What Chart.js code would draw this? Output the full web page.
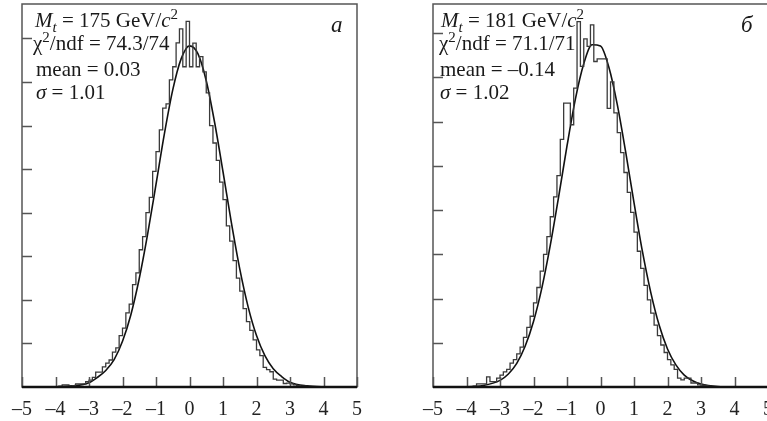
<!DOCTYPE html>
<html>
<head>
<meta charset="utf-8">
<script src="https://cdn.jsdelivr.net/npm/chart.js@4.4.1/dist/chart.umd.min.js"></script>
<style>
    body { margin: 0; background: #fff; width: 767px; height: 421px; overflow: hidden; position: relative; }
    canvas { position: absolute; top: 0; }
    #chartA { left: 0; }
    #chartB { left: 411px; }
    .note { position: absolute; font: 21px "Liberation Serif", serif; line-height: 21px; color: #1a1a1a; white-space: nowrap; }
    .note i { font-style: italic; }
    .sub { position: relative; font-size: 15px; top: 5px; line-height: 0; }
    .sup { position: relative; font-size: 15px; top: -8px; line-height: 0; }
    .tag { position: absolute; font: italic 23px "Liberation Serif", serif; line-height: 23px; color: #1a1a1a; }
</style>
</head>
<body>
<canvas id="chartA" width="380" height="421"></canvas>
<canvas id="chartB" width="380" height="421"></canvas>

<div class="note" style="left:35px;top:10px"><i>M</i><span class="sub"><i>t</i></span> = 175 GeV/<i>c</i><span class="sup">2</span></div>
<div class="note" style="left:33px;top:33px">χ<span class="sup">2</span>/ndf = 74.3/74</div>
<div class="note" style="left:36px;top:59px">mean = 0.03</div>
<div class="note" style="left:36px;top:82px"><i>σ</i> = 1.01</div>
<div class="tag" style="left:331px;top:13px">а</div>

<div class="note" style="left:441px;top:10px"><i>M</i><span class="sub"><i>t</i></span> = 181 GeV/<i>c</i><span class="sup">2</span></div>
<div class="note" style="left:439px;top:33px">χ<span class="sup">2</span>/ndf = 71.1/71</div>
<div class="note" style="left:440px;top:59px">mean = –0.14</div>
<div class="note" style="left:440px;top:82px"><i>σ</i> = 1.02</div>
<div class="tag" style="left:741px;top:13px">б</div>

<script>
// histogram bins: 0.1 wide, first bin starts at -4.0
const binStart = -4.0;
const binWidth = 0.1;

// panel а (Mt = 175)
const countsA = [
    0, 0, 2, 5, 5, 2, 3, 7, 7, 7,
    12, 16, 22, 34, 34, 46, 55, 62, 80, 90,
    118, 135, 170, 190, 235, 262, 315, 345, 400, 435,
    495, 540, 590, 640, 650, 705, 735, 790, 822, 735,
    839, 735, 789, 735, 758, 723, 675, 600, 560, 520,
    470, 430, 370, 335, 290, 250, 220, 180, 150, 130,
    108, 85, 72, 45, 40, 35, 18, 16, 16, 8,
    9, 7, 5, 3, 2
];

// panel б (Mt = 181)
const countsB = [
    0, 0, 1, 2, 7, 7, 7, 23, 12, 12,
    20, 27, 34, 40, 54, 62, 75, 90, 112, 135,
    160, 190, 225, 262, 300, 340, 385, 430, 478, 560,
    642, 642, 593, 676, 826, 725, 787, 770, 819, 736,
    742, 742, 742, 630, 690, 620, 575, 530, 485, 440,
    395, 350, 307, 268, 230, 197, 167, 140, 116, 95,
    78, 62, 50, 40, 20, 16, 20, 20, 9, 9,
    5, 4, 3, 2, 1
];

// fitted curves, read at these x positions
const curveX = [-5, -4, -3.5, -3, -2.75, -2.5, -2.25, -2, -1.75, -1.5, -1.25, -1, -0.75, -0.5, -0.25,
    0, 0.25, 0.5, 0.75, 1, 1.25, 1.5, 1.75, 2, 2.25, 2.5, 2.75, 3, 3.5, 4, 5];
const curveA = [0, 0.5, 2.5, 10, 22, 38, 63, 105, 166, 249, 351, 465, 581, 682, 753,
    783, 765, 703, 607, 494, 377, 271, 184, 118, 72, 42, 24, 11, 2.5, 0.5, 0];
const curveB = [0, 0.6, 3.4, 15, 29.5, 53.5, 92, 148, 224, 320, 430, 545, 651, 731, 774,
    771, 723, 639, 532, 417, 307, 214, 140, 86, 50, 27, 14, 7, 1.3, 0.2, 0];

const xTicks = [-5, -4, -3, -2, -1, 0, 1, 2, 3, 4, 5];
const yTicks = [100, 200, 300, 400, 500, 600, 700, 800];

function histPoints(counts) {
    const pts = counts.map((c, i) => ({ x: binStart + i * binWidth, y: c }));
    pts.push({ x: binStart + counts.length * binWidth, y: counts[counts.length - 1] });
    return pts;
}

// frame with inward tick marks
const framePlugin = {
    id: 'frame',
    afterDatasetsDraw(chart) {
        const { ctx, chartArea: a, scales: { x, y } } = chart;
        ctx.save();
        ctx.strokeStyle = '#555';
        ctx.lineWidth = 1.5;
        ctx.strokeRect(a.left, a.top, a.right - a.left, a.bottom - a.top);
        ctx.beginPath();
        xTicks.forEach(v => {
            const px = Math.round(x.getPixelForValue(v)) + 0.5;
            ctx.moveTo(px, a.bottom);
            ctx.lineTo(px, a.bottom - 10);
        });
        yTicks.forEach(v => {
            const py = Math.round(y.getPixelForValue(v)) + 0.5;
            ctx.moveTo(a.left, py);
            ctx.lineTo(a.left + 10, py);
        });
        ctx.stroke();
        ctx.strokeStyle = '#111';
        ctx.lineWidth = 2.5;
        ctx.beginPath();
        ctx.moveTo(a.left, a.bottom);
        ctx.lineTo(a.right, a.bottom);
        ctx.stroke();
        ctx.restore();
    }
};

function makeChart(id, counts, curve, yMax) {
    return new Chart(document.getElementById(id), {
        type: 'line',
        data: {
            datasets: [
                {
                    data: histPoints(counts),
                    stepped: 'after',
                    borderColor: '#3a3a3a',
                    borderWidth: 1.3,
                    pointRadius: 0,
                    fill: false
                },
                {
                    data: curveX.map((v, i) => ({ x: v, y: curve[i] })),
                    cubicInterpolationMode: 'monotone',
                    borderColor: '#111',
                    borderWidth: 1.6,
                    pointRadius: 0,
                    fill: false
                }
            ]
        },
        options: {
            responsive: false,
            animation: false,
            devicePixelRatio: 1,
            layout: { padding: { left: 22, right: 23, top: 4, bottom: 0 } },
            plugins: { legend: { display: false }, tooltip: { enabled: false } },
            scales: {
                x: {
                    type: 'linear',
                    min: -5,
                    max: 5,
                    afterBuildTicks: s => { s.ticks = xTicks.map(v => ({ value: v })); },
                    ticks: {
                        autoSkip: false,
                        maxRotation: 0,
                        padding: 11,
                        color: '#222',
                        font: { family: 'Liberation Serif', size: 20 },
                        callback: v => (v < 0 ? '\u2013' + Math.abs(v) : String(v))
                    },
                    grid: { display: false, drawTicks: false },
                    border: { display: false },
                    afterFit: s => { s.height = 34; }
                },
                y: {
                    min: 0,
                    max: yMax,
                    ticks: { display: false },
                    grid: { display: false, drawTicks: false },
                    border: { display: false },
                    afterFit: s => { s.width = 0; }
                }
            }
        },
        plugins: [framePlugin]
    });
}

makeChart('chartA', countsA, curveA, 879);
makeChart('chartB', countsB, curveB, 866);
</script>
</body>
</html>
